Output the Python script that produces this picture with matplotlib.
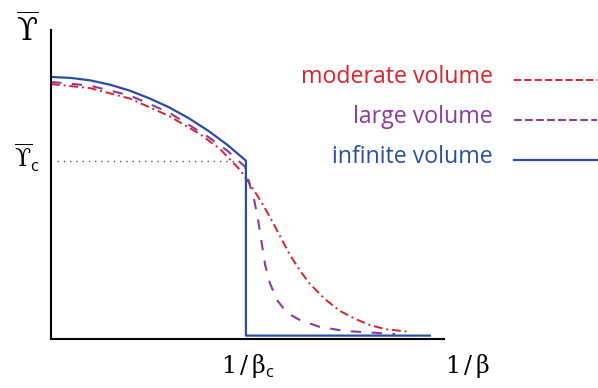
import matplotlib.pyplot as plt

# order parameter vs temperature 1/beta, three system sizes
beta_c_inv = 0.496
ups_c = 0.577

x_inf = [0, 0.05, 0.10, 0.15, 0.20, 0.25, 0.30, 0.35, 0.40, 0.45, 0.496, 0.496, 0.964]
y_inf = [0.848, 0.845, 0.837, 0.823, 0.804, 0.779, 0.750, 0.715, 0.674, 0.627, 0.577, 0.011, 0.011]

x_large = [0, 0.099, 0.201, 0.300, 0.399, 0.450, 0.494, 0.506, 0.517, 0.527, 0.537,
           0.545, 0.557, 0.575, 0.601, 0.634, 0.684, 0.748, 0.812, 0.875]
y_large = [0.832, 0.820, 0.788, 0.733, 0.655, 0.608, 0.557, 0.498, 0.450, 0.385, 0.304,
           0.239, 0.181, 0.126, 0.084, 0.061, 0.039, 0.026, 0.021, 0.016]

x_mod = [0, 0.099, 0.201, 0.300, 0.379, 0.430, 0.481, 0.506, 0.532, 0.557, 0.588,
         0.608, 0.634, 0.659, 0.697, 0.735, 0.774, 0.812, 0.850, 0.913]
y_mod = [0.825, 0.812, 0.778, 0.722, 0.663, 0.615, 0.547, 0.502, 0.450, 0.395, 0.320,
         0.272, 0.220, 0.178, 0.129, 0.091, 0.065, 0.045, 0.032, 0.023]

labels = ['moderate volume', 'large volume', 'infinite volume']
red, purple, blue = '#e0202a', '#8a3c9c', '#2b4ea2'

plt.rcParams['mathtext.fontset'] = 'custom'
plt.rcParams['mathtext.rm'] = 'DejaVu Serif'
plt.rcParams['mathtext.sf'] = 'Open Sans'

fig = plt.figure(figsize=(5.98, 3.88), dpi=100)
ax = fig.add_axes([51/598, 49/388, 393/598, 309/388])
ax.set_xlim(0, 1); ax.set_ylim(0, 1)
for s in ['top', 'right']:
    ax.spines[s].set_visible(False)
for s in ['left', 'bottom']:
    ax.spines[s].set_linewidth(1.5)
ax.set_xticks([]); ax.set_yticks([])

ax.plot([0.015, beta_c_inv], [ups_c, ups_c], color='#555555', lw=1, ls=(0, (1, 3.5)))
l_mod, = ax.plot(x_mod, y_mod, color=red, lw=1.4, ls=(0, (4.5, 2, 1, 2)), clip_on=False)
l_large, = ax.plot(x_large, y_large, color=purple, lw=1.5, ls=(0, (5, 5)), clip_on=False)
l_inf, = ax.plot(x_inf, y_inf, color=blue, lw=1.6, clip_on=False)

# labels on the axes
fig.text(27/598, 1 - 30/388, r'$\overline{\mathrm{ϒ}}$', fontsize=22, ha='center', va='center')
fig.text(27/598, 1 - 158/388, r'$\overline{\mathrm{ϒ}}_{\mathsf{c}}$', fontsize=17, ha='center', va='center')
fig.text(248/598, 1 - 366/388, r'$\mathrm{1\,/\,\beta}_{\mathsf{c}}$', fontsize=17, ha='center', va='center')
fig.text(468/598, 1 - 366/388, r'$\mathrm{1\,/\,\beta}$', fontsize=17, ha='center', va='center')

# legend drawn by hand: text on the left, line sample on the right
for i, (lab, ln) in enumerate(zip(labels, [l_mod, l_large, l_inf])):
    yy = 1 - (77 + 40*i)/388
    fig.text(493/598, yy, lab, color=ln.get_color(), fontsize=16.7,
             family='Open Sans', ha='right', va='center')
    fig.add_artist(plt.Line2D([514/598, 597/598], [yy - 3/388, yy - 3/388],
                              color=ln.get_color(), lw=ln.get_linewidth(),
                              ls=ln.get_linestyle()))

fig.savefig('out.png', dpi=100)
